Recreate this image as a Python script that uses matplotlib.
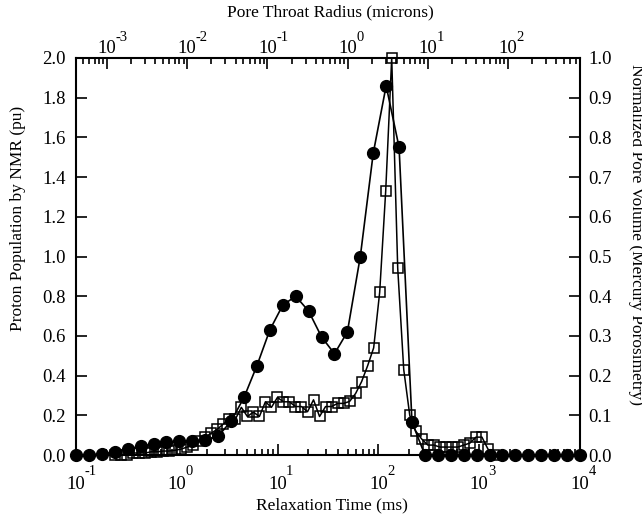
import numpy as np
import matplotlib
matplotlib.use('Agg')
import matplotlib.pyplot as plt
from matplotlib.ticker import LogLocator, NullFormatter

plt.rcParams['font.family'] = ['Liberation Serif', 'DejaVu Serif']

# ---- NMR T2 distribution (filled circles): bottom / left axes ----
t2_ms = np.logspace(-1, 4, 40)
nmr_pu = [0.0, 0.0, 0.005, 0.015, 0.03, 0.045, 0.055, 0.065, 0.07, 0.07,
          0.075, 0.095, 0.17, 0.29, 0.45, 0.63, 0.755, 0.80, 0.725, 0.595,
          0.51, 0.62, 1.0, 1.52, 1.86, 1.55, 0.165, 0.0, 0.0, 0.0,
          0.0, 0.0, 0.0, 0.0, 0.0, 0.0, 0.0, 0.0, 0.0, 0.0]

# ---- Mercury porosimetry (open squares): top / right axes ----
radius_um = np.logspace(-2.9, 1.825, 64)
hg_norm = [0.0, 0.0, 0.0, 0.005, 0.005, 0.005, 0.008, 0.008, 0.01, 0.01,
           0.012, 0.015, 0.02, 0.025, 0.035, 0.045, 0.055, 0.065, 0.078, 0.09,
           0.09, 0.12, 0.097, 0.108, 0.097, 0.134, 0.12, 0.145, 0.134, 0.134,
           0.122, 0.122, 0.109, 0.139, 0.097, 0.122, 0.122, 0.13, 0.13, 0.135,
           0.155, 0.185, 0.225, 0.27, 0.41, 0.665, 1.0, 0.47, 0.215, 0.10,
           0.06, 0.04, 0.025, 0.025, 0.02, 0.02, 0.02, 0.02, 0.025, 0.03,
           0.045, 0.045, 0.015, 0.0]

bottom_exps = [-1, 0, 1, 2, 3, 4]
top_exps = [-3, -2, -1, 0, 1, 2]
left_ticks = [0.0, 0.2, 0.4, 0.6, 0.8, 1.0, 1.2, 1.4, 1.6, 1.8, 2.0]
right_ticks = [0.0, 0.1, 0.2, 0.3, 0.4, 0.5, 0.6, 0.7, 0.8, 0.9, 1.0]

W, H = 642, 520
fig = plt.figure(figsize=(W / 100, H / 100), dpi=100)
fig.patch.set_facecolor('white')
L, R, B, T = 76 / W, 580 / W, 1 - 455 / H, 1 - 58 / H
rect = [L, B, R - L, T - B]

ax2 = fig.add_axes(rect, frameon=False)
ax = fig.add_axes(rect)
ax.patch.set_visible(False)
ax2.patch.set_visible(False)

TS = 13.5  # tick label size
ES = 10.5  # exponent size
LS = 12.5  # axis label size

# main axes
ax.set_xscale('log')
ax.set_xlim(1e-1, 1e4)
ax.set_ylim(0, 2.0)
for s in ax.spines.values():
    s.set_linewidth(1.5)
ax.set_xticks([10.0 ** e for e in bottom_exps])
ax.set_xticklabels(['10'] * len(bottom_exps))
ax.xaxis.set_minor_locator(LogLocator(base=10, subs=np.arange(2, 10), numticks=20))
ax.xaxis.set_minor_formatter(NullFormatter())
ax.set_yticks(left_ticks)
ax.set_yticklabels(['%.1f' % v for v in left_ticks])
ax.tick_params(which='both', direction='in', top=False, right=False, width=1.2)
ax.tick_params(which='major', length=8)
ax.tick_params(which='minor', length=4.5)
ax.tick_params(axis='x', which='major', labelsize=TS, pad=15)
ax.tick_params(axis='y', which='major', labelsize=TS, pad=7.5)
for e in bottom_exps:
    ax.annotate(str(e), xy=(10.0 ** e, 0), xycoords=('data', 'axes fraction'),
                xytext=(6.2, -12), textcoords='offset points',
                ha='left', va='center', fontsize=ES, annotation_clip=False)

# secondary axes
ax2.set_xscale('log')
ax2.set_xlim(10 ** -3.387, 10 ** 2.898)
ax2.set_ylim(0, 1.0)
ax2.xaxis.tick_top()
ax2.yaxis.tick_right()
ax2.set_xticks([10.0 ** e for e in top_exps])
ax2.set_xticklabels(['10'] * len(top_exps))
ax2.xaxis.set_minor_locator(LogLocator(base=10, subs=np.arange(2, 10), numticks=20))
ax2.xaxis.set_minor_formatter(NullFormatter())
ax2.set_yticks(right_ticks)
ax2.set_yticklabels(['%.1f' % v for v in right_ticks])
ax2.tick_params(which='both', direction='in', bottom=False, left=False,
                top=True, right=True, width=1.2)
ax2.tick_params(which='major', length=8)
ax2.tick_params(which='minor', length=4.5)
ax2.tick_params(axis='x', which='major', labelsize=TS, pad=1)
ax2.tick_params(axis='y', which='major', labelsize=TS, pad=6)
for e in top_exps:
    ax2.annotate(str(e), xy=(10.0 ** e, 1), xycoords=('data', 'axes fraction'),
                 xytext=(6.2, 15), textcoords='offset points',
                 ha='left', va='center', fontsize=ES, annotation_clip=False)

# data
ax2.plot(radius_um, hg_norm, '-s', color='black', mfc='none', mec='black',
         ms=7, mew=1.1, lw=1.1, clip_on=False, zorder=3)
ax.plot(t2_ms, nmr_pu, '-o', color='black', ms=8.5, lw=1.2,
        clip_on=False, zorder=4)

# axis titles
fig.text(332 / W, 1 - 505 / H, 'Relaxation Time (ms)', ha='center', va='center', fontsize=LS)
fig.text(330 / W, 1 - 12 / H, 'Pore Throat Radius (microns)', ha='center', va='center', fontsize=LS)
fig.text(18 / W, 1 - 218 / H, 'Proton Population by NMR (pu)', rotation=90,
         ha='center', va='center', fontsize=LS)
fig.text(636 / W, 1 - 234 / H, 'Normalized Pore Volume (Mercury Porosimetry)', rotation=270,
         ha='center', va='center', fontsize=LS)

fig.savefig('out.png', dpi=100, facecolor='white')
